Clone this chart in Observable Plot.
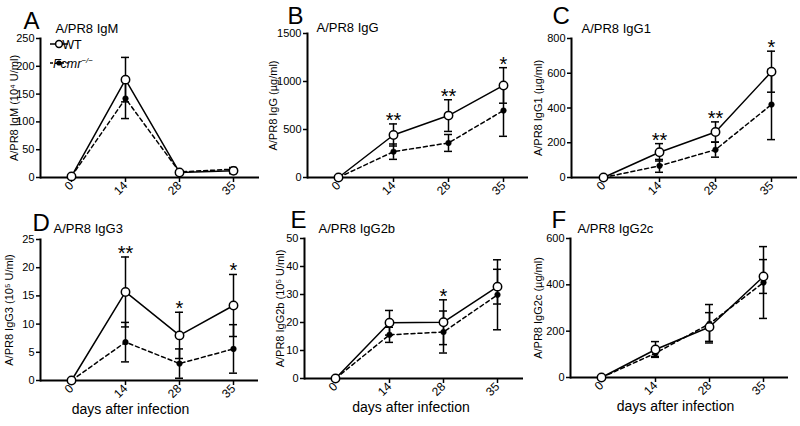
<!DOCTYPE html>
<html>
<head>
<meta charset="utf-8">
<script src="https://cdn.jsdelivr.net/npm/d3@7"></script>
<script src="https://cdn.jsdelivr.net/npm/@observablehq/plot@0.6"></script>
<style>
  body { margin: 0; background: white; }
  #wrap { position: relative; width: 800px; height: 426px; overflow: hidden; background: white; }
  #wrap > svg { position: absolute; }
</style>
</head>
<body>
<div id="wrap"></div>
<script>
// ---- data ----
const days = ["0", "14", "28", "35"];
const groups = ["WT", "Fcmr"];
const xLabel = "days after infection";

// A: IgM (10^4 U/ml)
const igmWT = [2, 176, 9, 12];
const igmWTerr = [1, 40, 2, 5];
const igmKO = [2, 142, 10, 15];
const igmKOerr = [1, 36, 2, 3];
const igmTicks = [0, 50, 100, 150, 200, 250];

// B: IgG (µg/ml)
const iggWT = [0, 443, 645, 959];
const iggWTerr = [0, 115, 165, 185];
const iggKO = [0, 269, 360, 698];
const iggKOerr = [0, 80, 88, 269];
const iggStars = ["", "**", "**", "*"];
const iggTicks = [0, 500, 1000, 1500];

// C: IgG1 (µg/ml)
const igg1WT = [0, 145, 262, 609];
const igg1WTerr = [0, 50, 58, 118];
const igg1KO = [0, 67, 160, 420];
const igg1KOerr = [0, 37, 43, 202];
const igg1Stars = ["", "**", "**", "*"];
const igg1Ticks = [0, 200, 400, 600, 800];

// D: IgG3 (10^5 U/ml)
const igg3WT = [0, 15.7, 8.0, 13.3];
const igg3WTerr = [0, 6.2, 4.1, 5.5];
const igg3KO = [0, 6.8, 3.0, 5.6];
const igg3KOerr = [0, 3.5, 2.6, 4.3];
const igg3Stars = ["", "**", "*", "*"];
const igg3Ticks = [0, 5, 10, 15, 20, 25];

// E: IgG2b (10^5 U/ml)
const igg2bWT = [0, 19.9, 20.1, 32.8];
const igg2bWTerr = [0, 4.4, 8.0, 6.2];
const igg2bKO = [0, 15.6, 16.6, 29.9];
const igg2bKOerr = [0, 2.7, 7.5, 12.5];
const igg2bStars = ["", "", "*", ""];
const igg2bTicks = [0, 10, 20, 30, 40, 50];

// F: IgG2c (µg/ml)
const igg2cWT = [0, 121, 218, 436];
const igg2cWTerr = [0, 34, 62, 73];
const igg2cKO = [0, 105, 232, 410];
const igg2cKOerr = [0, 14, 83, 155];
const igg2cTicks = [0, 200, 400, 600];

// ---- layout (positions of panels, not data) ----
const FONT = "'Liberation Sans', Arial, Helvetica, sans-serif";

const panels = [
  {letter: "A", title: "A/PR8 IgM", yLabel: "A/PR8 IgM (10\u2074 U/ml)", yMax: 250, yTicks: igmTicks,
   wt: igmWT, wtErr: igmWTerr, ko: igmKO, koErr: igmKOerr, stars: null, xLab: false, legend: true,
   L: {left: 0, top: 0, width: 266, height: 210, ml: 40, mr: 7, mt: 38, mb: 33,
       letterDx: -17, letterDy: -10, titleDx: 15, titleDy: -6, yLabelDx: -26, xLabelDx: 0}},
  {letter: "B", title: "A/PR8 IgG", yLabel: "A/PR8 IgG (\u00b5g/ml)", yMax: 1500, yTicks: iggTicks,
   wt: iggWT, wtErr: iggWTerr, ko: iggKO, koErr: iggKOerr, stars: iggStars, xLab: false,
   L: {left: 266, top: 0, width: 266, height: 210, ml: 41, mr: 4, mt: 33, mb: 33,
       letterDx: -20, letterDy: -10, titleDx: 9, titleDy: -2, yLabelDx: -34, xLabelDx: 0}},
  {letter: "C", title: "A/PR8 IgG1", yLabel: "A/PR8 IgG1 (\u00b5g/ml)", yMax: 800, yTicks: igg1Ticks,
   wt: igg1WT, wtErr: igg1WTerr, ko: igg1KO, koErr: igg1KOerr, stars: igg1Stars, xLab: false,
   L: {left: 531, top: 0, width: 269, height: 210, ml: 40, mr: 3, mt: 38, mb: 33,
       letterDx: -19, letterDy: -15, titleDx: 10, titleDy: -6, yLabelDx: -33, xLabelDx: 0}},
  {letter: "D", title: "A/PR8 IgG3", yLabel: "A/PR8 IgG3 (10\u2075 U/ml)", yMax: 25, yTicks: igg3Ticks,
   wt: igg3WT, wtErr: igg3WTerr, ko: igg3KO, koErr: igg3KOerr, stars: igg3Stars, xLab: true,
   L: {left: 0, top: 200, width: 266, height: 226, ml: 40, mr: 8, mt: 39, mb: 46,
       letterDx: -8, letterDy: -9, titleDx: 13, titleDy: -7, yLabelDx: -31, xLabelDx: -19}},
  {letter: "E", title: "A/PR8 IgG2b", yLabel: "A/PR8 IgG2b (10\u2075 U/ml)", yMax: 50, yTicks: igg2bTicks,
   wt: igg2bWT, wtErr: igg2bWTerr, ko: igg2bKO, koErr: igg2bKOerr, stars: igg2bStars, xLab: true,
   L: {left: 266, top: 200, width: 266, height: 226, ml: 38, mr: 9, mt: 38, mb: 48,
       letterDx: -14, letterDy: -11, titleDx: 14, titleDy: -6, yLabelDx: -24, xLabelDx: -3}},
  {letter: "F", title: "A/PR8 IgG2c", yLabel: "A/PR8 IgG2c (\u00b5g/ml)", yMax: 600, yTicks: igg2cTicks,
   wt: igg2cWT, wtErr: igg2cWTerr, ko: igg2cKO, koErr: igg2cKOerr, stars: null, xLab: true,
   L: {left: 531, top: 200, width: 266, height: 226, ml: 39, mr: 9, mt: 38, mb: 49,
       letterDx: -19, letterDy: -11, titleDx: 7, titleDy: -6, yLabelDx: -32, xLabelDx: -4}}
];

const wrap = document.getElementById("wrap");

function makePanel(cfg) {
  const L = cfg.L;
  const wtRows = days.map((d, i) => ({day: d, group: groups[0], mean: cfg.wt[i], err: cfg.wtErr[i], star: cfg.stars ? cfg.stars[i] : ""}));
  const koRows = days.map((d, i) => ({day: d, group: groups[1], mean: cfg.ko[i], err: cfg.koErr[i]}));
  const all = koRows.concat(wtRows);
  const errRows = all.filter(d => d.err > 0);

  const marks = [
    Plot.frame({anchor: "left", strokeWidth: 2}),
    Plot.ruleY([0], {strokeWidth: 2}),
    Plot.axisY({ticks: cfg.yTicks, tickSize: 4, tickPadding: 2, strokeWidth: 1.5, label: null, tickFormat: d => String(d), fontSize: 11}),
    Plot.axisX({tickSize: 5, tickPadding: 1, tickRotate: -45, strokeWidth: 1.5, label: null, fontSize: 12}),
    Plot.line(koRows, {x: "day", y: "mean", stroke: "black", strokeWidth: 1.5, strokeDasharray: "4,3"}),
    Plot.line(wtRows, {x: "day", y: "mean", stroke: "black", strokeWidth: 1.5}),
    Plot.ruleX(errRows, {x: "day", y1: d => d.mean - d.err, y2: d => d.mean + d.err, stroke: "black", strokeWidth: 1.5}),
    Plot.ruleY(errRows, {x1: "day", x2: "day", y: d => d.mean + d.err, insetLeft: -4, insetRight: -4, stroke: "black", strokeWidth: 1.5}),
    Plot.ruleY(errRows, {x1: "day", x2: "day", y: d => d.mean - d.err, insetLeft: -4, insetRight: -4, stroke: "black", strokeWidth: 1.5}),
    Plot.dot(koRows, {x: "day", y: "mean", r: 2.8, fill: "black", stroke: "black", strokeWidth: 0.5}),
    Plot.dot(wtRows, {x: "day", y: "mean", r: 4.2, fill: "white", stroke: "black", strokeWidth: 1.5}),
    Plot.text([cfg.letter], {text: d => d, frameAnchor: "top-left", textAnchor: "start", lineAnchor: "bottom", dx: L.letterDx, dy: L.letterDy, fontSize: 24}),
    Plot.text([cfg.title], {text: d => d, frameAnchor: "top-left", textAnchor: "start", lineAnchor: "bottom", dx: L.titleDx, dy: L.titleDy, fontSize: 13}),
    Plot.text([cfg.yLabel], {text: d => d, frameAnchor: "left", textAnchor: "middle", lineAnchor: "middle", rotate: -90, dx: L.yLabelDx, fontSize: 11})
  ];
  if (cfg.stars) {
    marks.push(Plot.text(wtRows.filter(d => d.star), {x: "day", y: d => d.mean + d.err, text: "star", fontSize: 20, lineAnchor: "bottom", dy: 3}));
  }
  if (cfg.xLab) {
    marks.push(Plot.text([xLabel], {text: d => d, frameAnchor: "bottom", textAnchor: "middle", lineAnchor: "middle", dy: 29, dx: L.xLabelDx, fontSize: 14}));
  }

  const svg = Plot.plot({
    width: L.width, height: L.height,
    marginLeft: L.ml, marginRight: L.mr, marginTop: L.mt, marginBottom: L.mb,
    style: {fontFamily: FONT, fontSize: "11px", background: "transparent", overflow: "visible", color: "black"},
    x: {type: "point", domain: days, padding: 0.5, align: 0.55},
    y: {domain: [0, cfg.yMax], nice: false},
    marks
  });
  svg.style.left = L.left + "px";
  svg.style.top = L.top + "px";
  wrap.appendChild(svg);

  if (cfg.legend) {
    const g = d3.select(svg).append("g").attr("font-family", FONT).attr("font-size", 12.5);
    // WT entry
    g.append("line").attr("x1", 50).attr("x2", 68).attr("y1", 44).attr("y2", 44).attr("stroke", "black").attr("stroke-width", 1.5);
    g.append("circle").attr("cx", 59).attr("cy", 44).attr("r", 3.4).attr("fill", "white").attr("stroke", "black").attr("stroke-width", 1.5);
    g.append("text").attr("x", 72).attr("y", 48.5).text(groups[0]);
    // Fcmr entry
    g.append("line").attr("x1", 50).attr("x2", 68).attr("y1", 63).attr("y2", 63).attr("stroke", "black").attr("stroke-width", 1.5).attr("stroke-dasharray", "3,2.5");
    g.append("circle").attr("cx", 59).attr("cy", 63).attr("r", 2.6).attr("fill", "black");
    const t = g.append("text").attr("x", 73).attr("y", 67.5).attr("font-style", "italic");
    t.append("tspan").text(groups[1]);
    t.append("tspan").attr("dy", -5).attr("font-size", 8).text("\u2212/\u2212");
  }
}

panels.forEach(makePanel);
</script>
</body>
</html>
